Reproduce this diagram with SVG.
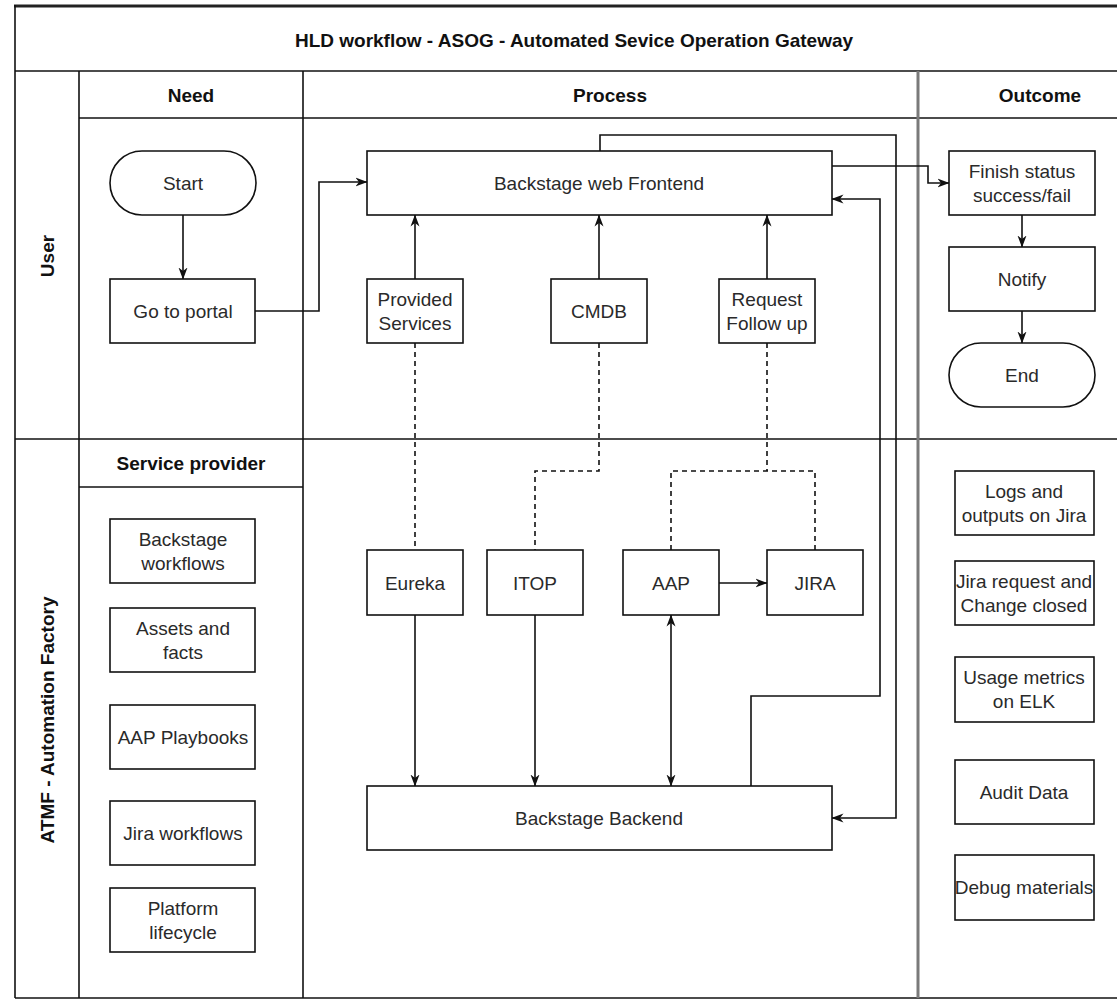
<svg xmlns="http://www.w3.org/2000/svg" width="1117" height="1000" viewBox="0 0 1117 1000">
<defs>
<style>
.frame{fill:none;stroke:#111;stroke-width:1.6}
.box{fill:#fff;stroke:#111;stroke-width:1.6}
.t{font-family:"Liberation Sans",Arial,Helvetica,sans-serif;font-size:19px;fill:#2a2a2a;text-anchor:middle;dominant-baseline:central}
.h{font-family:"Liberation Sans",Arial,Helvetica,sans-serif;font-size:19px;font-weight:bold;fill:#111;text-anchor:middle;dominant-baseline:central}
.c{fill:none;stroke:#111;stroke-width:1.6}
.d{fill:none;stroke:#111;stroke-width:1.6;stroke-dasharray:5 4}
</style>
<marker id="arr" viewBox="0 0 12 10" markerWidth="12" markerHeight="10" refX="11.5" refY="5" orient="auto-start-reverse" markerUnits="userSpaceOnUse">
<path d="M0,0.5 L12,5 L0,9.5 L3.5,5 Z" fill="#111"/>
</marker>
</defs>
<rect width="1117" height="1000" fill="#fff"/>

<g id="pool">
<line x1="14" y1="6" x2="1117" y2="6" stroke="#222" stroke-width="3"/>
<line x1="15" y1="5" x2="15" y2="998" class="frame"/>
<line x1="15" y1="71" x2="1117" y2="71" class="frame"/>
<line x1="79" y1="118" x2="1117" y2="118" class="frame"/>
<line x1="15" y1="439" x2="1117" y2="439" class="frame"/>
<line x1="79" y1="487" x2="303" y2="487" class="frame"/>
<line x1="15" y1="998" x2="1117" y2="998" class="frame"/>
<line x1="79" y1="71" x2="79" y2="998" class="frame"/>
<line x1="303" y1="71" x2="303" y2="998" class="frame"/>
<line x1="918" y1="71" x2="918" y2="998" stroke="#7a7a7a" stroke-width="3"/>
<text class="h" x="574" y="40">HLD workflow - ASOG - Automated Sevice Operation Gateway</text>
<text class="h" x="191" y="95">Need</text>
<text class="h" x="610" y="95">Process</text>
<text class="h" x="1040" y="95">Outcome</text>
<text class="h" x="191" y="463">Service provider</text>
<text class="h" transform="translate(47,256) rotate(-90)">User</text>
<text class="h" transform="translate(47,720) rotate(-90)">ATMF - Automation Factory</text>
</g>

<g id="connectors">
<path class="c" d="M183,215 V279" marker-end="url(#arr)"/>
<path class="c" d="M255,311 H319 V182 H367" marker-end="url(#arr)"/>
<path class="c" d="M415,279 V215" marker-end="url(#arr)"/>
<path class="c" d="M599,279 V215" marker-end="url(#arr)"/>
<path class="c" d="M767,279 V215" marker-end="url(#arr)"/>
<path class="c" d="M600,151 V135 H896 V818 H832" marker-end="url(#arr)"/>
<path class="c" d="M751,786 V696 H880 V199 H832" marker-end="url(#arr)"/>
<path class="c" d="M832,166 H928 V183 H949" marker-end="url(#arr)"/>
<path class="c" d="M1022,215 V247" marker-end="url(#arr)"/>
<path class="c" d="M1022,311 V343" marker-end="url(#arr)"/>
<path class="c" d="M415,615 V786" marker-end="url(#arr)"/>
<path class="c" d="M535,615 V786" marker-end="url(#arr)"/>
<path class="c" d="M671,615 V786" marker-start="url(#arr)" marker-end="url(#arr)"/>
<path class="c" d="M719,583 H767" marker-end="url(#arr)"/>
<path class="d" d="M415,343 V550"/>
<path class="d" d="M599,343 V471 H535 V550"/>
<path class="d" d="M767,343 V471"/>
<path class="d" d="M671,550 V471 H815 V550"/>
</g>

<g id="start"><rect class="box" x="110" y="151" width="146" height="64" rx="32"/><text class="t" x="183" y="183">Start</text></g>
<g id="go-to-portal"><rect class="box" x="110" y="279" width="145" height="64"/><text class="t" x="183" y="311">Go to portal</text></g>

<g id="sp-backstage-workflows"><rect class="box" x="110" y="519" width="145" height="64"/><text class="t" x="183" y="539">Backstage</text><text class="t" x="183" y="563">workflows</text></g>
<g id="sp-assets"><rect class="box" x="110" y="608" width="145" height="64"/><text class="t" x="183" y="628">Assets and</text><text class="t" x="183" y="652">facts</text></g>
<g id="sp-aap-playbooks"><rect class="box" x="110" y="705" width="145" height="64"/><text class="t" x="183" y="737">AAP Playbooks</text></g>
<g id="sp-jira-workflows"><rect class="box" x="110" y="801" width="145" height="64"/><text class="t" x="183" y="833">Jira workflows</text></g>
<g id="sp-platform-lifecycle"><rect class="box" x="110" y="888" width="145" height="64"/><text class="t" x="183" y="908">Platform</text><text class="t" x="183" y="932">lifecycle</text></g>

<g id="frontend"><rect class="box" x="367" y="151" width="465" height="64"/><text class="t" x="599" y="183">Backstage web Frontend</text></g>
<g id="provided-services"><rect class="box" x="367" y="279" width="96" height="64"/><text class="t" x="415" y="299">Provided</text><text class="t" x="415" y="323">Services</text></g>
<g id="cmdb"><rect class="box" x="551" y="279" width="96" height="64"/><text class="t" x="599" y="311">CMDB</text></g>
<g id="request-follow-up"><rect class="box" x="719" y="279" width="96" height="64"/><text class="t" x="767" y="299">Request</text><text class="t" x="767" y="323">Follow up</text></g>

<g id="eureka"><rect class="box" x="367" y="550" width="96" height="65"/><text class="t" x="415" y="583">Eureka</text></g>
<g id="itop"><rect class="box" x="487" y="550" width="96" height="65"/><text class="t" x="535" y="583">ITOP</text></g>
<g id="aap"><rect class="box" x="623" y="550" width="96" height="65"/><text class="t" x="671" y="583">AAP</text></g>
<g id="jira"><rect class="box" x="767" y="550" width="96" height="65"/><text class="t" x="815" y="583">JIRA</text></g>
<g id="backend"><rect class="box" x="367" y="786" width="465" height="64"/><text class="t" x="599" y="818">Backstage Backend</text></g>

<g id="finish-status"><rect class="box" x="949" y="151" width="146" height="64"/><text class="t" x="1022" y="171">Finish status</text><text class="t" x="1022" y="195">success/fail</text></g>
<g id="notify"><rect class="box" x="949" y="247" width="146" height="64"/><text class="t" x="1022" y="279">Notify</text></g>
<g id="end"><rect class="box" x="949" y="343" width="146" height="64" rx="32"/><text class="t" x="1022" y="375">End</text></g>

<g id="out-logs"><rect class="box" x="955" y="471" width="139" height="64"/><text class="t" x="1024" y="491">Logs and</text><text class="t" x="1024" y="515">outputs on Jira</text></g>
<g id="out-jira-closed"><rect class="box" x="955" y="561" width="139" height="64"/><text class="t" x="1024" y="581">Jira request and</text><text class="t" x="1024" y="605">Change closed</text></g>
<g id="out-usage"><rect class="box" x="955" y="657" width="139" height="65"/><text class="t" x="1024" y="677">Usage metrics</text><text class="t" x="1024" y="701">on ELK</text></g>
<g id="out-audit"><rect class="box" x="955" y="760" width="139" height="64"/><text class="t" x="1024" y="792">Audit Data</text></g>
<g id="out-debug"><rect class="box" x="955" y="855" width="139" height="65"/><text class="t" x="1024" y="887">Debug materials</text></g>
</svg>
